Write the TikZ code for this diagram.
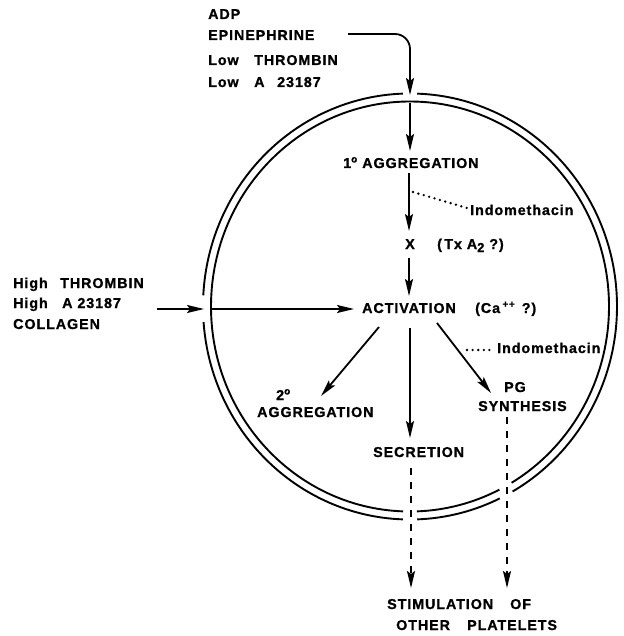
\documentclass[tikz,border=0pt]{standalone}
\usepackage{fontspec}
\setmainfont{Liberation Sans}[LetterSpace=6.5,BoldFeatures={FakeBold=1}]
\usetikzlibrary{arrows.meta}
\newcommand{\supo}{\raisebox{5.5pt}{\fontsize{10}{10}\selectfont o}}
\newcommand{\suppp}{\raisebox{5.5pt}{\fontsize{10}{10}\selectfont ++}}
\newcommand{\subtwo}{\raisebox{-3pt}{\fontsize{13}{13}\selectfont 2}}
\begin{document}
\begin{tikzpicture}[x=1pt,y=-1pt,
  lbl/.style={inner sep=0pt,anchor=west,text height=10pt,text depth=0pt,
    font=\bfseries\fontsize{14.3}{16}\selectfont},
  clbl/.style={lbl,anchor=center},
  arr/.style={line width=1.8pt,-{Stealth[length=17pt,width=8pt,inset=3pt]}},
  darr/.style={arr,dash pattern=on 7pt off 7pt},
  dotline/.style={line width=2.6pt,line cap=round,dash pattern=on 0pt off 5.6pt},
  ring/.style={line width=1.9pt}]
\useasboundingbox (0,0) rectangle (623,636);
% cell
\coordinate (C) at (410,306.5);
\draw[ring] (C) ++(272:207 and 213) arc[start angle=272,end angle=420.3,x radius=207,y radius=213];
\draw[ring] (C) ++(64.3:207 and 213) arc[start angle=64.3,end angle=88,x radius=207,y radius=213];
\draw[ring] (C) ++(92:207 and 213) arc[start angle=92,end angle=175.8,x radius=207,y radius=213];
\draw[ring] (C) ++(183:207 and 213) arc[start angle=183,end angle=268,x radius=207,y radius=213];
\draw[ring] (C) ++(63.3:199 and 205) arc[start angle=63.3,end angle=88,x radius=199,y radius=205];
\draw[ring] (C) ++(92:199 and 205) arc[start angle=92,end angle=419.3,x radius=199,y radius=205];
% texts
\node[lbl] (adp) at (208,14) {ADP};
\node[lbl] (epi) at (208,35) {EPINEPHRINE};
\node[lbl] (lthr) at (208,60) {\makebox[46pt][l]{Low}THROMBIN};
\node[lbl] (la) at (208,82) {\makebox[46pt][l]{Low}\makebox[23pt][l]{A}23187};
\node[lbl] (hthr) at (13,283) {\makebox[47pt][l]{High}THROMBIN};
\node[lbl] (ha) at (13,303) {\makebox[49pt][l]{High}A 23187};
\node[lbl] (coll) at (13,324) {COLLAGEN};
\node[lbl] (agg1) at (343,163) {1\supo\hspace{5pt}AGGREGATION};
\node[clbl] (xn) at (410,244) {X};
\node[lbl] (tx) at (437,244) {(\,Tx A\subtwo\ ?)};
\node[lbl] (ind1) at (470,210) {Indomethacin};
\node[lbl] (act) at (362,308) {ACTIVATION};
\node[lbl] (ca) at (475,308) {(Ca\,\suppp\hspace{7pt}?)};
\node[lbl] (two) at (276,395) {2\supo};
\node[lbl] (agg2) at (257,412) {AGGREGATION};
\node[lbl] (sec) at (373,452) {SECRETION};
\node[lbl] (ind2) at (497,348) {Indomethacin};
\node[clbl] (pg) at (515,387) {PG};
\node[lbl] (syn) at (478,406) {SYNTHESIS};
\node[lbl] (stim) at (387,604) {\makebox[123pt][l]{STIMULATION}OF};
\node[lbl] (oth) at (396,625) {\makebox[71pt][l]{OTHER}PLATELETS};
% connector end points
\coordinate (a1s) at (348,34);   \coordinate (a1e) at (410,95);
\coordinate (a2s) at (410,103);  \coordinate (a2e) at (410,151);
\coordinate (a3s) at (409,173);  \coordinate (a3e) at (409,231);
\coordinate (a4s) at (409,258);  \coordinate (a4e) at (409,296);
\coordinate (a5s) at (157,309);  \coordinate (a5e) at (204,309);
\coordinate (a6s) at (212,309);  \coordinate (a6e) at (354,309);
\coordinate (a7s) at (379,327);  \coordinate (a7e) at (321,396);
\coordinate (a8s) at (410,328);  \coordinate (a8e) at (410,438);
\coordinate (a9s) at (437,323);  \coordinate (a9e) at (491,393);
\coordinate (d1s) at (411,468);  \coordinate (d1e) at (411,588);
\coordinate (d2s) at (507,417);  \coordinate (d2e) at (507,588);
\coordinate (i1s) at (413,192);  \coordinate (i1e) at (467,208);
\coordinate (i2s) at (467,350);  \coordinate (i2e) at (494,350);
% connectors
\draw[arr,rounded corners=15pt] (a1s) -| (a1e);
\draw[arr] (a2s) -- (a2e);
\draw[arr] (a3s) -- (a3e);
\draw[arr] (a4s) -- (a4e);
\draw[arr] (a5s) -- (a5e);
\draw[arr] (a6s) -- (a6e);
\draw[arr] (a7s) -- (a7e);
\draw[arr] (a8s) -- (a8e);
\draw[arr] (a9s) -- (a9e);
\draw[darr] (d1s) -- (d1e);
\draw[darr] (d2s) -- (d2e);
\draw[dotline] (i1s) -- (i1e);
\draw[dotline] (i2s) -- (i2e);
\end{tikzpicture}
\end{document}
